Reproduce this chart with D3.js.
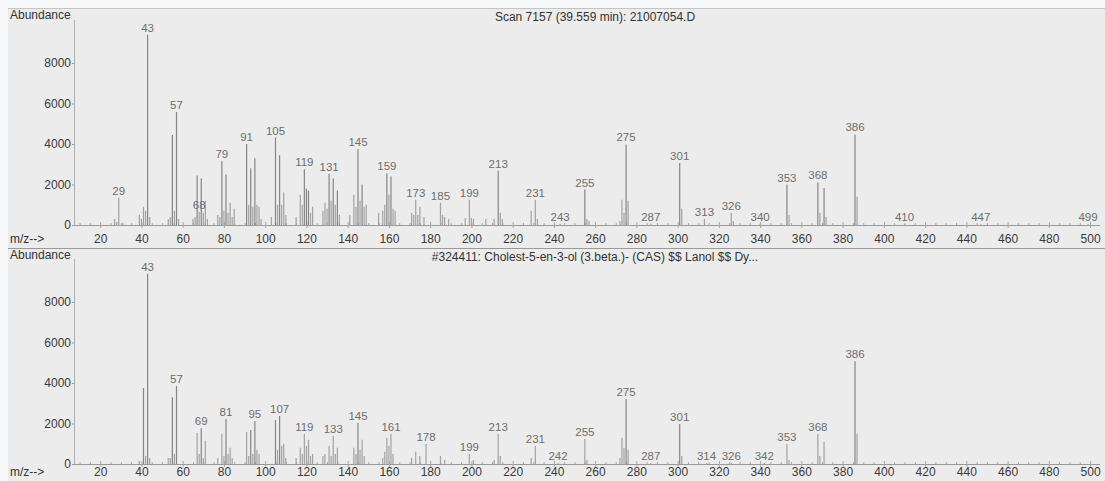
<!DOCTYPE html>
<html><head><meta charset="utf-8">
<script src="https://cdn.jsdelivr.net/npm/d3@7"></script>
<style>html,body{margin:0;padding:0;background:#f6f8fa;} svg{display:block}</style>
</head><body><svg id="c" width="1105" height="481"></svg>
<script>
// ---------- data ----------
const xTicks = [20,40,60,80,100,120,140,160,180,200,220,240,260,280,300,320,340,360,380,400,420,440,460,480,500];
const yTicks = [0,2000,4000,6000,8000];

const scanTitle = "Scan 7157 (39.559 min): 21007054.D";
const scanMz = [27,28,29,31,39,40,41,42,43,44,53,54,55,56,57,58,65,66,67,68,69,70,71,72,77,78,79,80,81,82,83,84,85,
  91,92,93,94,95,96,97,98,103,105,106,107,108,109,110,115,117,118,119,120,121,122,123,128,129,130,131,132,133,134,135,136,
  141,143,144,145,146,147,148,149,155,157,158,159,160,161,162,163,171,172,173,174,175,177,185,186,187,189,197,199,200,201,
  207,211,213,214,215,229,231,232,243,255,256,257,272,273,274,275,276,287,301,302,313,326,327,340,353,354,368,369,371,372,
  386,387,410,447,499];
const scanAbundance = [300,150,1350,100,500,300,900,700,9400,400,300,400,4450,700,5580,300,300,400,2450,650,2300,600,1200,300,500,400,3150,700,2500,600,1100,400,800,
  4000,1000,2800,900,3300,1000,900,300,400,4320,1000,3450,1000,1600,500,400,1500,1000,2750,1800,1700,600,900,700,1100,800,2530,1200,2300,1000,1700,500,
  500,1500,900,3750,1200,2000,900,1000,600,700,1000,2560,1500,2400,800,700,600,500,1250,500,900,400,1100,500,400,300,350,1250,350,300,
  300,300,2680,600,300,700,1250,300,60,1750,300,200,200,1250,600,3980,1200,60,3060,800,300,600,200,60,2000,500,2100,600,1830,400,
  4470,1400,40,40,40];
const scanLabels = [29,43,57,68,79,91,105,119,131,145,159,173,185,199,213,231,243,255,275,287,301,313,326,340,353,368,386,410,447,499];

const libTitle = "#324411: Cholest-5-en-3-ol (3.beta.)- (CAS) $$ Lanol $$ Dy...";
const libMz = [39,41,42,43,44,53,54,55,56,57,67,68,69,70,71,77,79,80,81,82,83,84,91,92,93,94,95,96,97,105,106,107,108,109,110,
  115,117,118,119,120,121,122,123,128,129,131,132,133,134,135,143,144,145,146,147,148,157,158,159,160,161,162,171,173,175,178,
  185,187,199,201,211,213,214,229,231,242,255,256,272,273,274,275,276,287,301,302,314,326,342,353,354,368,369,371,386,387];
const libAbundance = [150,3750,400,9400,300,300,300,3300,500,3850,1530,500,1770,300,1150,300,1500,400,2220,500,800,300,1580,400,1680,500,2120,700,500,2170,700,2370,900,1000,300,
  300,800,500,1480,900,1200,400,500,400,500,900,400,1380,500,800,800,500,2020,700,1200,400,300,600,1300,900,1480,500,300,600,400,990,
  400,200,490,200,200,1480,400,300,890,50,1230,200,300,1300,800,3210,700,50,1970,400,50,50,50,990,200,1480,400,1100,5080,1500];
const libLabels = [43,57,69,81,95,107,119,133,145,161,178,199,213,231,242,255,275,287,301,314,326,342,353,368,386];

// ---------- drawing ----------
const svg = d3.select("#c");
const FONT = "'Liberation Sans', Arial, sans-serif";
svg.append("rect").attr("x",8).attr("y",8).attr("width",1097).attr("height",473).attr("fill","#ececec");
svg.append("line").attr("x1",8).attr("x2",1105).attr("y1",8.5).attr("y2",8.5).attr("stroke","#c4c4c4");
svg.append("line").attr("x1",8).attr("x2",1105).attr("y1",248.5).attr("y2",248.5).attr("stroke","#9a9a9a");

const x = d3.scaleLinear().domain([7.3, 505]).range([74, 1100.4]);

function panel(baseline, titleY, labPad, mz, ab, labels, title) {
  const y = d3.scaleLinear().domain([0, 10000]).range([baseline, baseline - 202.5]);
  const g = svg.append("g");
  const data = mz.map((m, i) => ({m, a: ab[i]}));

  // axis labels
  g.append("text").attr("x", 10).attr("y", titleY).attr("font-family", FONT).attr("font-size", 12)
    .attr("fill", "#333").text("Abundance");
  g.append("text").attr("x", 595).attr("y", titleY + 2).attr("text-anchor", "middle").attr("font-family", FONT)
    .attr("font-size", 12).attr("fill", "#333").text(title);
  g.append("text").attr("x", 10).attr("y", baseline + labPad + 8.5).attr("font-family", FONT).attr("font-size", 12)
    .attr("fill", "#333").text("m/z-->");

  // y axis
  const ya = g.append("g").attr("transform", "translate(74,0)")
    .call(d3.axisLeft(y).tickValues(yTicks).tickSize(2).tickPadding(1).tickFormat(d3.format("d")));
  ya.select(".domain").remove();
  ya.selectAll("text").attr("font-family", FONT).attr("font-size", 12).attr("fill", "#3a3a3a");
  ya.selectAll("line").attr("stroke", "#999");
  g.append("line").attr("x1", 74.5).attr("x2", 74.5).attr("y1", baseline - 205).attr("y2", baseline)
    .attr("stroke", "#b0b0b0");

  // x axis
  const xa = g.append("g").attr("transform", `translate(0,${baseline})`)
    .call(d3.axisBottom(x).tickValues(xTicks).tickSize(0).tickPadding(labPad));
  xa.select(".domain").remove();
  xa.selectAll("text").attr("font-family", FONT).attr("font-size", 12).attr("fill", "#3a3a3a");
  g.append("line").attr("x1", 74).attr("x2", 1100).attr("y1", baseline + 0.5).attr("y2", baseline + 0.5)
    .attr("stroke", "#999");
  g.append("g").selectAll("line").data(d3.range(10, 505, 5)).join("line")
    .attr("x1", d => x(d) + 0.5).attr("x2", d => x(d) + 0.5)
    .attr("y1", d => baseline - (d % 20 === 0 ? 3 : 2)).attr("y2", d => baseline + (d % 20 === 0 ? 3 : 0))
    .attr("stroke", "#a8a8a8");

  // peaks
  g.append("g").selectAll("line").data(data).join("line")
    .attr("x1", d => x(d.m)).attr("x2", d => x(d.m))
    .attr("y1", baseline).attr("y2", d => y(d.a))
    .attr("stroke", d => d.a > 1600 ? "#858585" : "#a2a2a2")
    .attr("stroke-width", 1.2);

  // peak labels
  const lab = data.filter(d => labels.includes(d.m));
  g.append("g").selectAll("text").data(lab).join("text")
    .attr("x", d => x(d.m)).attr("y", d => y(d.a) - 3)
    .attr("text-anchor", "middle").attr("font-family", FONT).attr("font-size", 11.5)
    .attr("fill", "#6e6e6e").text(d => d.m);
}

panel(225, 19, 9, scanMz, scanAbundance, scanLabels, scanTitle);
panel(464, 259, 3.5, libMz, libAbundance, libLabels, libTitle);
</script></body></html>
